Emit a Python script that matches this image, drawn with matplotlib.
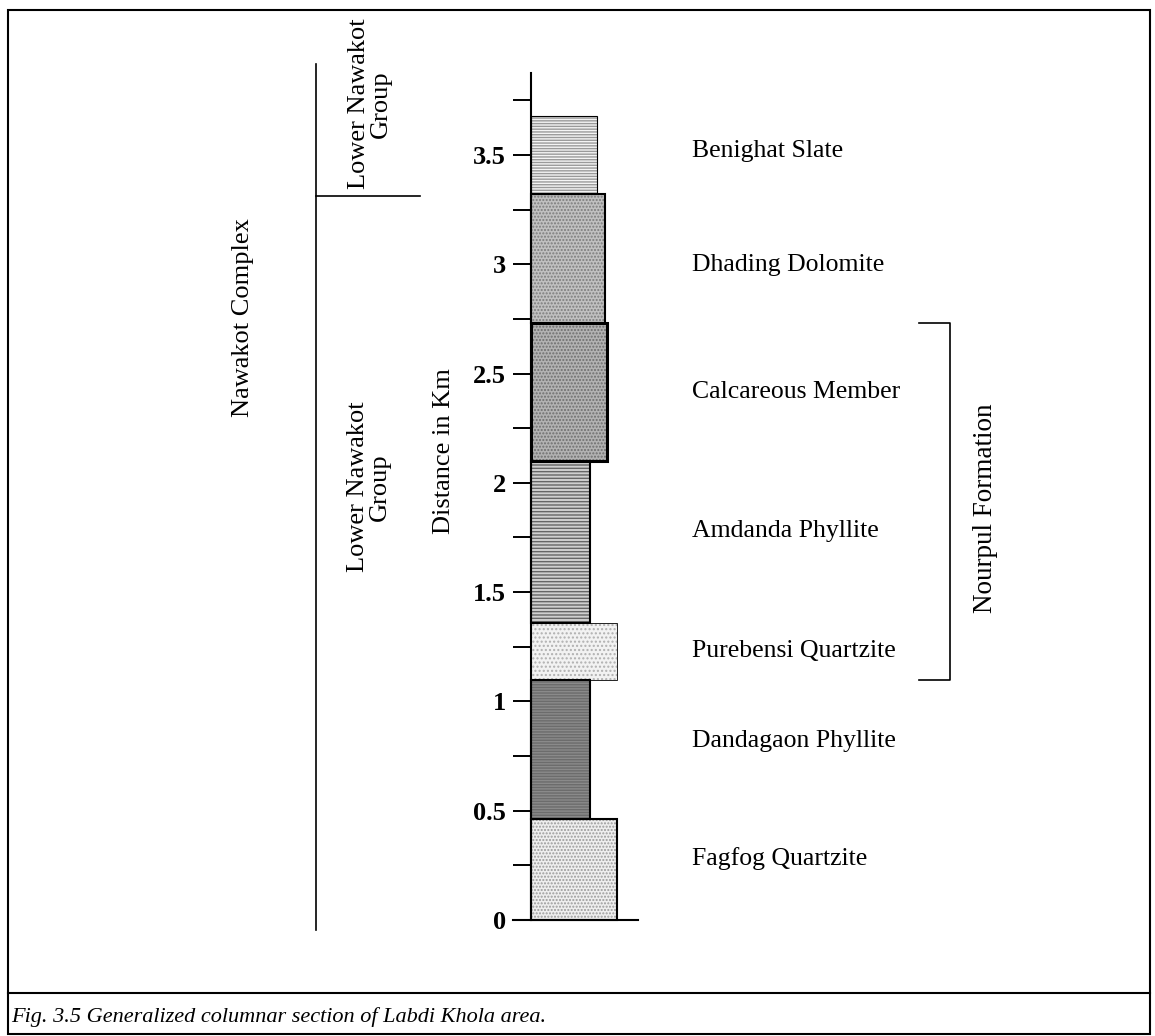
import matplotlib
matplotlib.use("Agg")
import numpy as np
import matplotlib.pyplot as plt
from matplotlib.lines import Line2D
from matplotlib.patches import Rectangle

plt.rcParams["font.family"] = ["Liberation Serif", "DejaVu Serif"]
plt.rcParams["hatch.linewidth"] = 1.0

# Layers of the column, bottom to top (km)
layers = ["Fagfog Quartzite", "Dandagaon Phyllite", "Purebensi Quartzite",
          "Amdanda Phyllite", "Calcareous Member", "Dhading Dolomite", "Benighat Slate"]
bottoms = [0.0, 0.46, 1.10, 1.36, 2.10, 2.73, 3.32]
tops = [0.46, 1.10, 1.36, 2.10, 2.73, 3.32, 3.68]

tick_values = [0, 0.5, 1, 1.5, 2, 2.5, 3, 3.5]
tick_labels = ["0", "0.5", "1", "1.5", "2", "2.5", "3", "3.5"]

# Group brackets (km)
nourpul_range = (1.10, 2.73)
upper_group_base = 3.31

# Styles of the column (widths in px, patterns)
widths = [86, 59, 86, 59, 76, 74, 66]
faces = ["#eeeeee", "#8a8a8a", "#f2f2f2", "#cfcfcf", "#b2b2b2", "#c0c0c0", "#f4f4f4"]
hatch_cols = ["#9a9a9a", "#6c6c6c", "#b0b0b0", "#666666", "#6e6e6e", "#7c7c7c", "#9a9a9a"]
hatches = [".....", "------", "....", "-----", ".....", ".....", "------"]
edge_lw = [1.5, 1.5, 0.6, 1.5, 2.2, 1.5, 0.8]
label_nudge = [0.05, 0.04, 0.0, 0.05, 0.0, -0.03, 0.02]

W, H = 1155, 1036
fig = plt.figure(figsize=(W / 100, H / 100), dpi=100)


def px(x, y):
    return x / W, 1 - y / H


# axes: spine at x=531 px, y 0 at 920 px, top at 73 px
ax = fig.add_axes([513 / W, (H - 920) / H, 125 / W, 847 / H])
ax.set_xlim(-18, 107)
ax.set_ylim(0, 3.875)
ax.patch.set_alpha(0)

for i in range(len(layers)):
    h = tops[i] - bottoms[i]
    ax.bar(0, h, width=widths[i], bottom=bottoms[i], align="edge",
           color=faces[i], edgecolor=hatch_cols[i], hatch=hatches[i],
           linewidth=0, clip_on=False, zorder=2)
    ax.bar(0, h, width=widths[i], bottom=bottoms[i], align="edge",
           fill=False, edgecolor="black", linewidth=edge_lw[i],
           clip_on=False, zorder=3)
    ax.text(161, (bottoms[i] + tops[i]) / 2 + label_nudge[i], layers[i],
            fontsize=18.5, ha="left", va="center")

ax.spines["right"].set_visible(False)
ax.spines["top"].set_visible(False)
ax.spines["left"].set_position(("data", 0))
ax.spines["left"].set_linewidth(1.5)
ax.spines["bottom"].set_linewidth(1.5)
ax.set_xticks([])
ax.set_yticks(tick_values)
ax.set_yticklabels(tick_labels, fontsize=19, fontweight="bold")
ax.set_yticks(np.arange(0.25, 3.8, 0.5), minor=True)
ax.tick_params(axis="y", which="both", direction="out", length=13, width=1.4, pad=5)

# Nourpul Formation bracket
b0, b1 = nourpul_range
ax.plot([388, 419, 419, 388], [b1, b1, b0, b0], color="black", lw=1.2, clip_on=False)
ax.text(455, (b0 + b1) / 2 - 0.03, "Nourpul Formation", rotation=90, fontsize=19.5,
        ha="center", va="center")

# Group lines on the left
fig.add_artist(Line2D([316 / W, 316 / W], [1 - 64 / H, 1 - 930 / H], color="black", lw=1.2))
yg = ax.transData.transform((0, upper_group_base))[1] / H
fig.add_artist(Line2D([316 / W, 420 / W], [yg, yg], color="black", lw=1.2))

fig.text(*px(243, 318), "Nawakot Complex", rotation=90, fontsize=19, ha="center", va="center")
fig.text(*px(370, 104), "Lower Nawakot\nGroup", rotation=90, fontsize=19,
         ha="center", va="center", multialignment="center", linespacing=0.95)
fig.text(*px(369, 487), "Lower Nawakot\nGroup", rotation=90, fontsize=19,
         ha="center", va="center", multialignment="center", linespacing=0.95)
fig.text(*px(444, 451), "Distance in Km", rotation=90, fontsize=19, ha="center", va="center")

# frame and caption
fig.add_artist(Rectangle((8 / W, 1 - 1034 / H), 1142 / W, 1024 / H, fill=False,
                         edgecolor="black", lw=1.5, transform=fig.transFigure))
fig.add_artist(Line2D([8 / W, 1150 / W], [1 - 993 / H, 1 - 993 / H], color="black", lw=1.5))
fig.text(*px(11, 1017), "Fig. 3.5 Generalized columnar section of Labdi Khola area.",
         fontsize=16, style="italic", ha="left", va="center")

fig.savefig("out.png", dpi=100)
